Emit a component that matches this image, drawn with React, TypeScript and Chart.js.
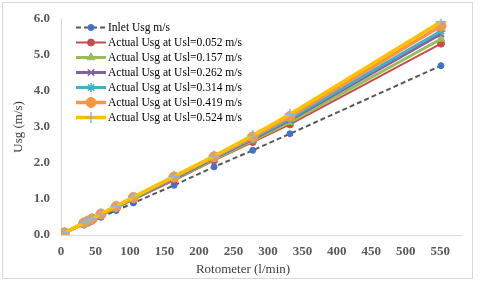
import React, { useEffect, useRef } from "react";
import { Chart, registerables } from "chart.js";
import { drawPoint } from "chart.js/helpers";

Chart.register(...registerables);

const flowRate = [5, 33, 39, 45, 58, 80, 105, 164, 222, 278, 332, 551];
const inletUsg = [0.05, 0.28, 0.33, 0.38, 0.49, 0.68, 0.89, 1.38, 1.89, 2.35, 2.81, 4.70];
const usl0052 = [0.06, 0.31, 0.36, 0.42, 0.54, 0.75, 0.98, 1.52, 2.07, 2.58, 3.07, 5.31];
const usl0157 = [0.06, 0.31, 0.37, 0.43, 0.55, 0.76, 1.0, 1.55, 2.1, 2.62, 3.13, 5.44];
const usl0262 = [0.06, 0.32, 0.37, 0.43, 0.56, 0.77, 1.01, 1.57, 2.13, 2.66, 3.19, 5.58];
const usl0314 = [0.06, 0.32, 0.38, 0.44, 0.57, 0.78, 1.02, 1.59, 2.15, 2.69, 3.23, 5.66];
const usl0419 = [0.06, 0.33, 0.38, 0.45, 0.58, 0.79, 1.04, 1.61, 2.17, 2.72, 3.29, 5.8];
const usl0524 = [0.06, 0.33, 0.39, 0.45, 0.59, 0.8, 1.05, 1.63, 2.19, 2.76, 3.35, 5.92];

const seriesLabels = [
  "Inlet Usg m/s",
  "Actual Usg at Usl=0.052 m/s",
  "Actual Usg at Usl=0.157 m/s",
  "Actual Usg at Usl=0.262 m/s",
  "Actual Usg at Usl=0.314 m/s",
  "Actual Usg at Usl=0.419 m/s",
  "Actual Usg at Usl=0.524 m/s",
];
const seriesValues = [inletUsg, usl0052, usl0157, usl0262, usl0314, usl0419, usl0524];

const xTitle = "Rotometer (l/min)";
const yTitle = "Usg (m/s)";

type Style = {
  line: string;
  width: number;
  dash: number[];
  point: string;
  pointFill: string;
  pointBorder: string;
  radius: number;
};
const styles: Style[] = [
  { line: "#595959", width: 2, dash: [5, 3], point: "circle", pointFill: "#4472C4", pointBorder: "#4472C4", radius: 3 },
  { line: "#C0504D", width: 2, dash: [], point: "circle", pointFill: "#C0504D", pointBorder: "#C0504D", radius: 3.5 },
  { line: "#9BBB59", width: 3, dash: [], point: "triangle", pointFill: "#9BBB59", pointBorder: "#9BBB59", radius: 4.5 },
  { line: "#8064A2", width: 3, dash: [], point: "crossRot", pointFill: "#8064A2", pointBorder: "#8064A2", radius: 4.5 },
  { line: "#4BACC6", width: 3, dash: [], point: "star", pointFill: "#4BACC6", pointBorder: "#4BACC6", radius: 4.5 },
  { line: "#F79646", width: 3.5, dash: [], point: "circle", pointFill: "#F79646", pointBorder: "#F79646", radius: 5 },
  { line: "#FFC000", width: 3.5, dash: [], point: "cross", pointFill: "#9DB0CF", pointBorder: "#9DB0CF", radius: 5.5 },
];

const frame = {
  id: "frame",
  beforeDraw(chart: any) {
    const ctx = chart.ctx;
    ctx.save();
    ctx.fillStyle = "#ffffff";
    ctx.fillRect(0, 0, chart.width, chart.height);
    ctx.strokeStyle = "#d9d9d9";
    ctx.lineWidth = 1;
    ctx.strokeRect(2.5, 2.5, 470, 276);
    ctx.restore();
  },
};

const lineLegend = {
  id: "lineLegend",
  afterDraw(chart: any) {
    const ctx = chart.ctx;
    chart.data.datasets.forEach((ds: any, i: number) => {
      const y = 27.5 + 15 * i;
      ctx.save();
      ctx.strokeStyle = ds.borderColor;
      ctx.lineWidth = ds.borderWidth;
      ctx.setLineDash(ds.borderDash || []);
      ctx.beginPath();
      ctx.moveTo(76, y);
      ctx.lineTo(106, y);
      ctx.stroke();
      ctx.setLineDash([]);
      ctx.fillStyle = ds.pointBackgroundColor;
      ctx.strokeStyle = ds.pointBorderColor;
      ctx.lineWidth = ds.pointBorderWidth;
      drawPoint(ctx, { pointStyle: ds.pointStyle, rotation: 0, radius: ds.pointRadius, borderWidth: ds.pointBorderWidth }, 91, y);
      ctx.fillStyle = "#000000";
      ctx.font = '11.5px "Liberation Serif"';
      ctx.textBaseline = "middle";
      ctx.textAlign = "left";
      ctx.fillText(ds.label, 108, y + 0.5);
      ctx.restore();
    });
    // x axis title, centred as in the reference
    ctx.save();
    ctx.fillStyle = "#404040";
    ctx.font = '13px "Liberation Serif"';
    ctx.textBaseline = "middle";
    ctx.textAlign = "center";
    ctx.fillText(xTitle, 243, 269.5);
    ctx.restore();
  },
};

export default function App() {
  const ref = useRef<HTMLCanvasElement>(null);
  useEffect(() => {
    if (!ref.current) return;
    const datasets = seriesValues.map((vals, i) => {
      const s = styles[i];
      return {
        label: seriesLabels[i],
        data: vals.map((v, j) => ({ x: flowRate[j], y: v })),
        showLine: true,
        borderColor: s.line,
        borderWidth: s.width,
        borderDash: s.dash,
        pointStyle: s.point,
        pointBackgroundColor: s.pointFill,
        pointBorderColor: s.pointBorder,
        pointBorderWidth: s.point === "cross" || s.point === "crossRot" || s.point === "star" ? 1.5 : 1,
        pointRadius: s.radius,
        tension: 0,
        order: seriesValues.length - i,
      };
    });
    const chart = new Chart(ref.current, {
      type: "scatter",
      data: { datasets },
      plugins: [frame, lineLegend],
      options: {
        animation: false,
        responsive: false,
        devicePixelRatio: 1,
        layout: { padding: { left: 0, right: 19, top: 15, bottom: 0 } },
        plugins: {
          legend: { display: false },
          tooltip: { enabled: false },
        },
        scales: {
          x: {
            type: "linear",
            min: 0,
            max: 580,
            grid: { display: false, drawTicks: false },
            border: { display: true, color: "#d9d9d9", width: 1 },
            ticks: {
              stepSize: 50,
              includeBounds: false,
              padding: 9,
              color: "#595959",
              maxRotation: 0,
              font: { family: "Liberation Serif", size: 13, weight: "bold" },
            },
            afterFit: (s: any) => {
              s.height = 49;
            },
          },
          y: {
            type: "linear",
            min: 0,
            max: 6,
            grid: { display: false, drawTicks: false },
            border: { display: true, color: "#d9d9d9", width: 1 },
            ticks: {
              stepSize: 1,
              padding: 11,
              color: "#595959",
              callback: (v: any) => Number(v).toFixed(1),
              font: { family: "Liberation Serif", size: 13, weight: "bold" },
            },
            title: {
              display: true,
              text: yTitle,
              color: "#404040",
              font: { family: "Liberation Serif", size: 13, weight: "normal" },
              padding: { top: 11, bottom: 0 },
            },
            afterFit: (s: any) => {
              s.width = 61;
            },
          },
        },
      },
    });
    return () => chart.destroy();
  }, []);
  return (
    <div style={{ position: "absolute", left: 0, top: 0, width: 480, height: 284 }}>
      <canvas ref={ref} width={480} height={284} />
    </div>
  );
}
